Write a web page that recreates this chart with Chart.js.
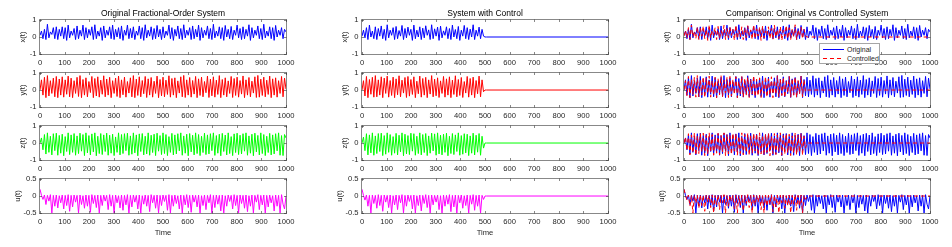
<!DOCTYPE html>
<html><head><meta charset="utf-8">
<script src="https://cdn.jsdelivr.net/npm/chart.js@4/dist/chart.umd.min.js"></script>
<style>
html,body{margin:0;padding:0;background:#fff;}
#wrap{position:relative;width:952px;height:247px;overflow:hidden;font-family:"Liberation Sans",Arial,sans-serif;}
#wrap canvas{position:absolute;}
#legend{position:absolute;left:819px;top:43px;width:59px;height:19px;background:#fff;border:1px solid #a6a6a6;font-size:7px;color:#262626;z-index:5;}
#legend .row{position:absolute;left:0;width:59px;height:9px;line-height:9px;white-space:nowrap;}
#legend .smp{position:absolute;left:3px;top:4px;width:21px;height:1px;}
#legend .txt{position:absolute;left:27px;top:0;}
</style></head>
<body><div id="wrap">
<div id="legend">
 <div class="row" style="top:1px"><div class="smp" style="background:#0000ff"></div><span class="txt">Original</span></div>
 <div class="row" style="top:10px"><div class="smp" style="background:repeating-linear-gradient(90deg,#ff0000 0 4px,transparent 4px 7px)"></div><span class="txt">Controlled</span></div>
</div>
</div>
<script>
// ---------- data ----------
const T_END = 1000;
const xTickValues = [0,100,200,300,400,500,600,700,800,900,1000];
const xyzTickValues = [-1,0,1];
const uTickValues = [-0.5,0,0.5];
const columnTitles = ['Original Fractional-Order System','System with Control','Comparison: Original vs Controlled System'];
const varLabels = ['x(t)','y(t)','z(t)','u(t)'];
const seriesNames = ['Original','Controlled'];
const settledValue = 0; // controlled states after control is switched on

const origX = [
0.10,0.35,-0.10,0.45,-0.15,0.75,-0.05,0.30,0.15,0.55,
-0.10,0.60,-0.15,0.45,0.05,0.60,-0.10,0.55,-0.20,0.70,
-0.05,0.35,0.10,0.50,-0.15,0.65,-0.10,0.40,0.05,0.70,
-0.15,0.55,-0.05,0.45,0.10,0.60,-0.15,0.72,-0.10,0.35,
0.05,0.55,-0.20,0.65,-0.05,0.40,0.10,0.60,-0.10,0.70,
-0.15,0.45,0.00,0.55,-0.10,0.65,-0.20,0.40,0.10,0.70,
-0.10,0.50,-0.05,0.60,-0.15,0.35,0.10,0.65,-0.10,0.55,
-0.20,0.72,-0.05,0.40,0.05,0.60,-0.15,0.50,-0.10,0.68,
0.00,0.45,-0.15,0.60,-0.05,0.35,0.10,0.70,-0.10,0.55,
-0.20,0.45,0.05,0.65,-0.10,0.50,-0.15,0.72,-0.05,0.40,
0.10,0.55,-0.15,0.65,-0.10,0.45,0.00,0.70,-0.20,0.55,
-0.05,0.40,0.10,0.65,-0.10,0.50,-0.15,0.75,-0.05,0.35,
0.05,0.60,-0.10,0.55,-0.20,0.68,0.00,0.45,-0.10,0.62,
-0.15,0.40,0.10,0.70,-0.05,0.50,-0.15,0.60,-0.10,0.45,
0.05,0.72,-0.20,0.55,-0.05,0.40,0.10,0.65,-0.10,0.50,
-0.15,0.75,-0.05,0.35,0.05,0.60,-0.10,0.55,-0.20,0.68,
0.00,0.40,0.10,0.55,-0.10,0.45,0.30];

const origY = [
0.00,0.60,-0.30,0.75,-0.45,0.85,-0.35,0.55,-0.20,0.70,
-0.40,0.80,-0.45,0.65,-0.30,0.78,-0.42,0.60,-0.25,0.82,
-0.40,0.70,-0.45,0.55,-0.20,0.75,-0.38,0.85,-0.45,0.62,
-0.30,0.72,-0.40,0.50,-0.15,0.80,-0.45,0.68,-0.35,0.78,
-0.42,0.58,-0.25,0.84,-0.40,0.65,-0.30,0.75,-0.45,0.55,
-0.20,0.70,-0.38,0.82,-0.45,0.60,-0.28,0.76,-0.42,0.50,
-0.18,0.72,-0.40,0.85,-0.45,0.64,-0.32,0.78,-0.40,0.56,
-0.22,0.80,-0.44,0.66,-0.30,0.74,-0.42,0.52,-0.20,0.82,
-0.45,0.62,-0.34,0.76,-0.40,0.58,-0.26,0.84,-0.42,0.68,
-0.30,0.72,-0.45,0.54,-0.18,0.78,-0.40,0.86,-0.44,0.60,
-0.30,0.74,-0.42,0.56,-0.24,0.80,-0.45,0.66,-0.32,0.76,
-0.40,0.50,-0.16,0.82,-0.44,0.64,-0.34,0.78,-0.42,0.58,
-0.26,0.85,-0.45,0.62,-0.30,0.72,-0.40,0.54,-0.20,0.80,
-0.44,0.68,-0.32,0.76,-0.42,0.56,-0.24,0.83,-0.45,0.60,
-0.30,0.74,-0.40,0.52,-0.18,0.78,-0.44,0.86,-0.42,0.64,
-0.32,0.76,-0.40,0.58,-0.26,0.82,-0.45,0.66,-0.30,0.72,
-0.42,0.55,-0.20,0.80,-0.40,0.70,0.05];

const origZ = [
0.00,0.30,-0.40,0.50,-0.65,0.60,-0.55,0.40,-0.70,0.55,
-0.45,0.58,-0.72,0.45,-0.60,0.52,-0.75,0.38,-0.50,0.60,
-0.68,0.48,-0.55,0.56,-0.72,0.42,-0.62,0.58,-0.48,0.50,
-0.74,0.60,-0.58,0.44,-0.70,0.54,-0.52,0.60,-0.75,0.40,
-0.62,0.56,-0.68,0.48,-0.50,0.58,-0.72,0.46,-0.60,0.52,
-0.74,0.36,-0.55,0.60,-0.70,0.50,-0.62,0.55,-0.45,0.58,
-0.72,0.42,-0.66,0.60,-0.58,0.48,-0.75,0.54,-0.50,0.56,
-0.70,0.40,-0.64,0.60,-0.72,0.46,-0.56,0.52,-0.74,0.58,
-0.48,0.44,-0.68,0.60,-0.62,0.50,-0.74,0.38,-0.55,0.57,
-0.70,0.48,-0.64,0.55,-0.46,0.60,-0.72,0.42,-0.60,0.52,
-0.75,0.56,-0.52,0.46,-0.70,0.60,-0.62,0.50,-0.74,0.40,
-0.56,0.58,-0.68,0.48,-0.64,0.55,-0.45,0.60,-0.73,0.44,
-0.60,0.52,-0.75,0.57,-0.50,0.47,-0.70,0.60,-0.62,0.38,
-0.74,0.54,-0.56,0.58,-0.68,0.46,-0.64,0.55,-0.48,0.60,
-0.72,0.42,-0.60,0.52,-0.75,0.58,-0.52,0.45,-0.70,0.60,
-0.62,0.50,-0.74,0.40,-0.56,0.57,-0.70,0.48,-0.64,0.55,
-0.46,0.60,-0.72,0.44,-0.74,0.50,0.30];

const origU = [
0.20,0.02,-0.10,0.03,-0.25,0.02,-0.15,0.04,-0.50,0.02,
-0.30,0.03,-0.35,0.01,-0.20,0.03,-0.38,0.02,-0.28,0.04,
-0.45,0.02,-0.32,0.03,-0.18,0.02,-0.50,0.03,-0.25,0.01,
-0.36,0.03,-0.30,0.02,-0.48,0.04,-0.22,0.02,-0.34,0.03,
-0.50,0.02,-0.28,0.03,-0.15,0.02,-0.40,0.04,-0.30,0.02,
-0.50,0.03,-0.20,0.01,-0.35,0.03,-0.42,0.02,-0.26,0.04,
-0.50,0.02,-0.32,0.03,-0.18,0.02,-0.38,0.03,-0.50,0.01,
-0.24,0.03,-0.30,0.02,-0.46,0.04,-0.20,0.02,-0.36,0.03,
-0.50,0.02,-0.28,0.03,-0.16,0.02,-0.42,0.04,-0.50,0.02,
-0.30,0.03,-0.22,0.01,-0.38,0.03,-0.50,0.02,-0.26,0.04,
-0.34,0.02,-0.48,0.03,-0.18,0.02,-0.32,0.03,-0.50,0.01,
-0.28,0.03,-0.40,0.02,-0.20,0.04,-0.50,0.02,-0.34,0.03,
-0.24,0.02,-0.44,0.03,-0.50,0.01,-0.30,0.03,-0.16,0.02,
-0.38,0.04,-0.28,0.02,-0.50,0.03,-0.22,0.02,-0.36,0.03,
-0.46,0.01,-0.30,0.03,-0.50,0.02,-0.18,0.04,-0.40,0.02,
-0.26,0.03,-0.50,0.02,-0.32,0.03,-0.20,0.01,-0.44,0.03,
-0.30,0.02,-0.50,0.04,-0.24,-0.38,0.00];

const ctrlX = [
0.05,0.40,-0.05,0.55,-0.15,0.70,0.00,0.35,-0.10,0.60,
-0.15,0.50,0.05,0.65,-0.10,0.45,-0.20,0.72,-0.05,0.40,
0.10,0.55,-0.15,0.62,-0.10,0.38,0.05,0.68,-0.15,0.50,
-0.05,0.58,0.10,0.45,-0.20,0.70,-0.10,0.40,0.00,0.60,
-0.15,0.52,-0.05,0.66,0.10,0.42,-0.15,0.72,-0.10,0.48,
0.05,0.58,-0.20,0.64,-0.05,0.36,0.10,0.60,-0.10,0.50,
-0.15,0.70,0.00,0.44,-0.10,0.62,-0.20,0.40,0.05,0.68,
-0.10,0.55,-0.15,0.46,0.00,0.72,-0.15,0.40,0.05,0.58,
-0.10,0.45,0.05,0.00,0.00];

const ctrlY = [
0.00,0.55,-0.35,0.80,-0.45,0.62,-0.25,0.75,-0.42,0.85,
-0.40,0.60,-0.30,0.78,-0.45,0.70,-0.20,0.82,-0.42,0.56,
-0.32,0.76,-0.45,0.66,-0.28,0.84,-0.40,0.58,-0.18,0.74,
-0.44,0.80,-0.36,0.62,-0.26,0.78,-0.45,0.52,-0.22,0.82,
-0.42,0.68,-0.30,0.75,-0.45,0.60,-0.24,0.85,-0.40,0.64,
-0.34,0.72,-0.44,0.54,-0.20,0.80,-0.42,0.66,-0.30,0.78,
-0.45,0.58,-0.26,0.84,-0.40,0.62,-0.32,0.74,-0.44,0.50,
-0.18,0.80,-0.42,0.68,-0.30,0.76,-0.45,0.56,-0.22,0.82,
-0.40,0.60,-0.10,0.00,0.00];

const ctrlZ = [
0.00,0.35,-0.45,0.55,-0.70,0.48,-0.58,0.60,-0.72,0.42,
-0.62,0.56,-0.50,0.58,-0.74,0.44,-0.66,0.60,-0.55,0.50,
-0.72,0.38,-0.60,0.57,-0.70,0.46,-0.52,0.60,-0.75,0.52,
-0.64,0.44,-0.68,0.58,-0.48,0.55,-0.72,0.40,-0.62,0.60,
-0.70,0.50,-0.56,0.56,-0.74,0.42,-0.60,0.58,-0.46,0.54,
-0.72,0.60,-0.64,0.46,-0.70,0.52,-0.55,0.58,-0.75,0.40,
-0.62,0.56,-0.68,0.48,-0.50,0.60,-0.72,0.44,-0.66,0.55,
-0.58,0.52,-0.74,0.42,-0.60,0.58,-0.70,0.46,-0.54,0.56,
-0.72,0.40,-0.30,0.00,0.00];

const ctrlU = [
0.20,0.02,-0.12,0.03,-0.30,0.02,-0.50,0.03,-0.22,0.02,
-0.36,0.04,-0.28,0.02,-0.45,0.03,-0.18,0.02,-0.34,0.03,
-0.50,0.01,-0.26,0.03,-0.40,0.02,-0.20,0.04,-0.50,0.02,
-0.30,0.03,-0.16,0.02,-0.38,0.03,-0.50,0.01,-0.28,0.03,
-0.44,0.02,-0.22,0.04,-0.34,0.02,-0.50,0.03,-0.26,0.02,
-0.18,0.03,-0.40,0.01,-0.50,0.03,-0.30,0.02,-0.24,0.04,
-0.46,0.02,-0.32,0.03,-0.50,0.02,-0.20,0.03,-0.36,0.01,
-0.28,0.03,-0.50,0.02,-0.24,0.04,-0.42,0.02,-0.30,0.03,
-0.50,0.02,-0.10,0.00,0.00];

// ---------- build ----------
const origAll = [origX, origY, origZ, origU];
const ctrlAll = [ctrlX, ctrlY, ctrlZ, ctrlU];
const varColors = ['#0000ff', '#ff0000', '#00ff00', '#ff00ff'];
const FONT = '"Liberation Sans", Arial, Helvetica, sans-serif';
const TXT = '#262626';

function toPoints(arr, n) {
  const dt = T_END / (n - 1);
  return arr.map((v, i) => ({x: i * dt, y: v}));
}
function ctrlPoints(arr, nOrig) {
  const p = toPoints(arr, nOrig);
  p.push({x: T_END, y: settledValue});
  return p;
}

const framePlugin = {
  id: 'frame',
  afterDatasetsDraw(chart, args, opts) {
    const {ctx, chartArea: a, scales} = chart;
    const L = Math.round(a.left) - 0.5, R = Math.round(a.right) + 0.5;
    const T = Math.round(a.top) - 0.5, B = Math.round(a.bottom) + 0.5;
    ctx.save();
    ctx.strokeStyle = 'rgba(38,38,38,0.55)';
    ctx.lineWidth = 1;
    ctx.beginPath();
    ctx.rect(L, T, R - L, B - T);
    const tl = 2.5;
    xTickValues.forEach(v => {
      const px = Math.round(scales.x.getPixelForValue(v)) + 0.5;
      ctx.moveTo(px, B); ctx.lineTo(px, B - tl);
      ctx.moveTo(px, T); ctx.lineTo(px, T + tl);
    });
    opts.yTicks.forEach(v => {
      const py = Math.round(scales.y.getPixelForValue(v)) + 0.5;
      ctx.moveTo(L, py); ctx.lineTo(L + tl, py);
      ctx.moveTo(R, py); ctx.lineTo(R - tl, py);
    });
    ctx.stroke();
    ctx.restore();
  }
};

const colLeft = [40, 362, 684];
const rowTop = [20, 73, 126, 178.5];
const PW = 246, PH = 34, YAX = 40, RPAD = 14, TPAD = 8;
const wrap = document.getElementById('wrap');
const legendEl = document.getElementById('legend');
const fmt = v => String(v);

for (let c = 0; c < 3; c++) {
  for (let r = 0; r < 4; r++) {
    const isU = r === 3;
    const yTicks = isU ? uTickValues : xyzTickValues;
    const xAxisH = r === 3 ? 28 : 16;
    const topPad = r === 0 ? rowTop[0] : TPAD;
    const cw = YAX + PW + RPAD;
    const ch = topPad + PH + xAxisH;
    const cv = document.createElement('canvas');
    cv.width = cw; cv.height = ch;
    cv.style.width = cw + 'px'; cv.style.height = ch + 'px';
    cv.style.left = (colLeft[c] - YAX) + 'px';
    cv.style.top = (rowTop[r] - topPad) + 'px';
    wrap.insertBefore(cv, legendEl);

    const nOrig = origAll[r].length;
    let datasets;
    if (c === 0) {
      datasets = [{label: seriesNames[0], data: toPoints(origAll[r], nOrig), borderColor: varColors[r]}];
    } else if (c === 1) {
      datasets = [{label: seriesNames[1], data: ctrlPoints(ctrlAll[r], nOrig), borderColor: varColors[r]}];
    } else {
      datasets = [
        {label: seriesNames[0], data: toPoints(origAll[r], nOrig), borderColor: '#0000ff', order: 2},
        {label: seriesNames[1], data: ctrlPoints(ctrlAll[r], nOrig), borderColor: '#ff0000', borderDash: [4, 3], order: 1}
      ];
    }
    datasets.forEach(d => { d.borderWidth = 1; d.pointRadius = 0; d.tension = 0; d.fill = false; });

    new Chart(cv, {
      type: 'line',
      data: {datasets},
      options: {
        responsive: false, animation: false, devicePixelRatio: 1,
        events: [],
        layout: {padding: {left: 0, right: RPAD, top: r === 0 ? 0 : TPAD, bottom: 0}},
        plugins: {
          legend: {display: false},
          tooltip: {enabled: false},
          title: {
            display: r === 0, text: columnTitles[c], color: '#000', fullSize: false,
            font: {family: FONT, size: 8.5, weight: 'normal', lineHeight: 1.2},
            padding: {top: 9, bottom: 0.8}
          },
          frame: {yTicks}
        },
        scales: {
          x: {
            type: 'linear', min: 0, max: T_END,
            afterBuildTicks: s => { s.ticks = xTickValues.map(v => ({value: v})); },
            afterFit: s => { s.height = xAxisH; },
            grid: {display: false, drawTicks: false}, border: {display: false},
            ticks: {font: {family: FONT, size: 7.6}, color: TXT, padding: 4, maxRotation: 0, autoSkip: false, callback: fmt},
            title: {display: r === 3, text: 'Time', color: TXT, font: {family: FONT, size: 7.6, lineHeight: 1.2}, padding: {top: 0, bottom: 3.5}}
          },
          y: {
            type: 'linear', min: yTicks[0], max: yTicks[yTicks.length - 1],
            afterBuildTicks: s => { s.ticks = yTicks.map(v => ({value: v})); },
            afterFit: s => { s.width = YAX; },
            grid: {display: false, drawTicks: false}, border: {display: false},
            ticks: {font: {family: FONT, size: 7.6}, color: TXT, padding: 3.5, callback: fmt},
            title: {display: true, text: varLabels[r], color: TXT, font: {family: FONT, size: 7.6, lineHeight: 1.2}, padding: {top: isU ? 13.5 : 18.5, bottom: 0}}
          }
        }
      },
      plugins: [framePlugin]
    });
  }
}
</script>
</body></html>
